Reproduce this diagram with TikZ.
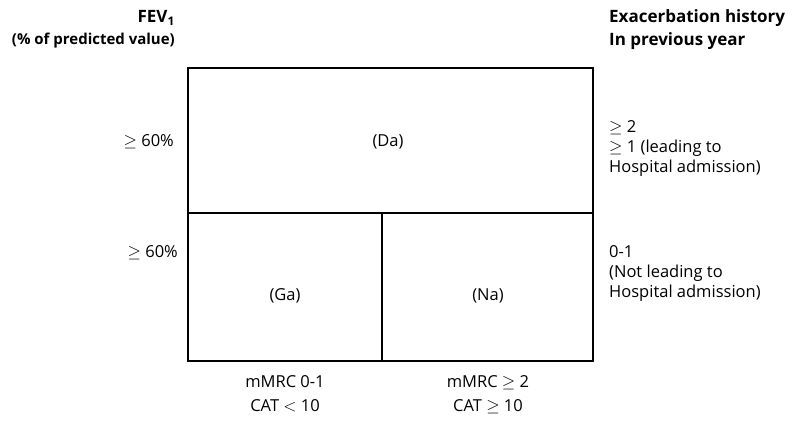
\documentclass[tikz,border=0pt]{standalone}
\usepackage{fontspec}
\setmainfont{Open Sans}
\begin{document}
\begin{tikzpicture}[x=1pt,y=-1pt,
  txt/.style={font=\fontsize{16.5}{20.2}\selectfont, inner sep=0pt, align=left},
  head/.style={font=\fontsize{17}{22}\selectfont\bfseries, inner sep=0pt},
  box/.style={draw, line width=1.9pt}]
\useasboundingbox (0,0) rectangle (793,424);
% box
\draw[box] (188,68) rectangle (593,361);
\coordinate (ml) at (188,213);
\coordinate (mr) at (593,213);
\coordinate (vt) at (382,213);
\coordinate (vb) at (382,361);
\draw[box] (ml) -- (mr);
\draw[box] (vt) -- (vb);
% headings
\node[head, anchor=east] (fev) at (175,18) {FEV\textsubscript{1}};
\node[font=\fontsize{15}{18}\selectfont\bfseries, inner sep=0pt, anchor=east] (pct) at (175,41) {(\% of predicted value)};
\node[head, anchor=west, align=left] (exh) at (609,18) {Exacerbation history};
\node[head, anchor=west, align=left] (prev) at (609,41) {In previous year};
% left labels
\node[txt, anchor=east] (g1) at (174,142) {$\geq$ 60\%};
\node[txt, anchor=east] (g2) at (178,253) {$\geq$ 60\%};
% cells
\node[txt] (da) at (388,142) {(Da)};
\node[txt] (ga) at (285,296) {(Ga)};
\node[txt] (na) at (488,296) {(Na)};
% right labels
\node[txt, anchor=north west] (r1) at (609,120) {$\geq$ 2\\$\geq$ 1 (leading to\\Hospital admission)};
\node[txt, anchor=north west] (r2) at (609,245) {0-1\\(Not leading to\\Hospital admission)};
% bottom labels
\node[txt, align=center, anchor=north, font=\fontsize{16.5}{24}\selectfont] (b1) at (285,375) {mMRC 0-1\\CAT $<$ 10};
\node[txt, align=center, anchor=north, font=\fontsize{16.5}{24}\selectfont] (b2) at (488,375) {mMRC $\geq$ 2\\CAT $\geq$ 10};
\end{tikzpicture}
\end{document}
